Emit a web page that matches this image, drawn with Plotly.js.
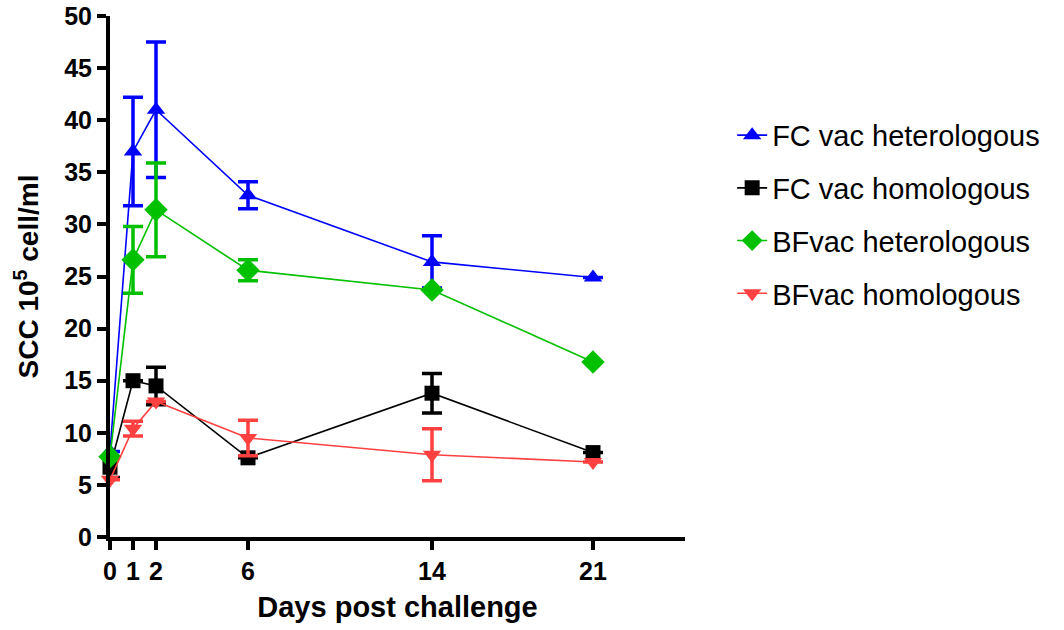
<!DOCTYPE html>
<html><head><meta charset="utf-8">
<script src="https://cdn.plot.ly/plotly-3.0.1.min.js"></script>
<style>body{margin:0;background:#fff}#chart{width:1064px;height:630px}</style>
</head><body><div id="chart"></div>
<script>
const days = [0, 1, 2, 6, 14, 21];
const tickLabels = ["0", "1", "2", "6", "14", "21"];
const seriesNames = ["FC vac heterologous", "FC vac homologous", "BFvac heterologous", "BFvac homologous"];
const fcHet = [8.2, 37.0, 41.0, 32.8, 26.4, 24.9];
const fcHetErr = [null, 5.2, 6.5, 1.3, 2.5, null];
const fcHom = [6.7, 15.0, 14.5, 7.6, 13.8, 8.1];
const fcHomErr = [1.0, null, 1.8, null, 1.9, null];
const bfHet = [7.7, 26.6, 31.4, 25.6, 23.7, 16.8];
const bfHetErr = [null, 3.2, 4.5, 1.0, null, null];
const bfHom = [5.5, 10.4, 13.0, 9.5, 7.9, 7.2];
const bfHomErr = [null, 0.7, null, 1.7, 2.5, null];

const colors = ["#0000ff", "#000000", "#00c000", "#ff4040"];
const symbols = ["triangle-up", "square", "diamond", "triangle-down"];
const sizes = [16, 15, 18, 16];
const ys = [fcHet, fcHom, bfHet, bfHom];
const errs = [fcHetErr, fcHomErr, bfHetErr, bfHomErr];

const traces = ys.map((y, i) => ({
  x: days, y: y, name: seriesNames[i], legendgroup: "g" + i, type: "scatter", mode: "lines+markers",
  line: {color: colors[i], width: 1.6},
  marker: {color: colors[i], symbol: symbols[i], size: sizes[i]},
  error_y: {type: "data", array: errs[i], visible: true, color: colors[i], thickness: 3.5, width: 10},
  cliponaxis: false
}));

const layout = {
  width: 1064, height: 630,
  margin: {l: 110, r: 379, t: 16, b: 93},
  paper_bgcolor: "#fff", plot_bgcolor: "#fff",
  font: {family: "Liberation Sans, Arial, sans-serif", color: "#000"},
  showlegend: true,
  legend: {x: 1.082, y: 0.82, xanchor: "left", yanchor: "top", font: {size: 29, color: "#000"},
           tracegroupgap: 12, bgcolor: "rgba(0,0,0,0)"},
  xaxis: {range: [0, 25], tickvals: days, ticktext: tickLabels, showgrid: false, zeroline: false,
          showline: true, linecolor: "#000", linewidth: 4, ticks: "outside", ticklen: 9, tickwidth: 4,
          tickcolor: "#000", tickfont: {size: 25, family: "Liberation Sans, Arial", weight: "bold"},
          title: {text: "<b>Days post challenge</b>", font: {size: 29}, standoff: 14}},
  yaxis: {range: [0, 50], dtick: 5, showgrid: false, zeroline: false,
          showline: true, linecolor: "#000", linewidth: 4, ticks: "outside", ticklen: 9, tickwidth: 4,
          tickcolor: "#000", tickfont: {size: 25, family: "Liberation Sans, Arial", weight: "bold"},
          title: {text: "<b>SCC 10<sup>5</sup> cell/ml</b>", font: {size: 28}, standoff: 18}}
};
Plotly.newPlot("chart", traces, layout, {displayModeBar: false});
</script></body></html>
